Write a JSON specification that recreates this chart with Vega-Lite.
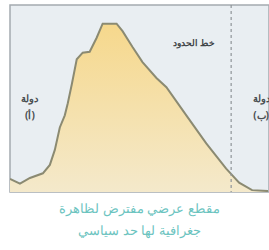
{
  "$schema": "https://vega.github.io/schema/vega-lite/v6.json",
  "width": 259,
  "height": 187,
  "autosize": "none",
  "padding": {"left": 10, "top": 5, "right": 0, "bottom": 58},
  "background": "#ffffff",
  "config": {"view": {"fill": "#e9eef2", "stroke": "#a4abb0", "strokeWidth": 1.5}},
  "title": {
    "text": ["مقطع عرضي مفترض لظاهرة", "جغرافية لها حد سياسي"],
    "orient": "bottom",
    "anchor": "middle",
    "color": "#6cc4bf",
    "font": "Noto Sans",
    "fontSize": 13,
    "fontWeight": "normal",
    "lineHeight": 22,
    "offset": 10
  },
  "datasets": {
    "profile": [
      {"d": 0, "h": 14}, {"d": 10, "h": 9}, {"d": 20, "h": 15}, {"d": 33, "h": 20},
      {"d": 40, "h": 29}, {"d": 45, "h": 45}, {"d": 50, "h": 69}, {"d": 55, "h": 82},
      {"d": 58, "h": 95}, {"d": 62, "h": 115}, {"d": 67, "h": 142}, {"d": 73, "h": 149},
      {"d": 80, "h": 150}, {"d": 87, "h": 165}, {"d": 93, "h": 180}, {"d": 107, "h": 180},
      {"d": 113, "h": 172}, {"d": 123, "h": 155}, {"d": 133, "h": 139}, {"d": 147, "h": 122},
      {"d": 157, "h": 112}, {"d": 177, "h": 82}, {"d": 197, "h": 52}, {"d": 217, "h": 25},
      {"d": 230, "h": 10}, {"d": 243, "h": 2}, {"d": 259, "h": 1}
    ],
    "labels": [
      {"d": 20, "h": 100, "t": "دولة"},
      {"d": 20, "h": 81, "t": "(أ)"},
      {"d": 252, "h": 100, "t": "دولة"},
      {"d": 252, "h": 81, "t": "(ب)"}
    ],
    "border": [{"d": 222}],
    "borderLabel": [{"d": 185, "h": 159, "t": "خط الحدود"}]
  },
  "layer": [
    {
      "data": {"name": "profile"},
      "mark": {
        "type": "area",
        "clip": true,
        "color": {
          "gradient": "linear", "x1": 0, "y1": 0, "x2": 0, "y2": 1,
          "stops": [{"offset": 0, "color": "#f6d88c"}, {"offset": 1, "color": "#f4e9cb"}]
        }
      },
      "encoding": {
        "x": {"field": "d", "type": "quantitative", "scale": {"domain": [0, 259]}, "axis": null},
        "y": {"field": "h", "type": "quantitative", "scale": {"domain": [0, 187]}, "axis": null}
      }
    },
    {
      "data": {"name": "profile"},
      "mark": {"type": "line", "clip": true, "color": "#8b8a72", "strokeWidth": 2},
      "encoding": {
        "x": {"field": "d", "type": "quantitative", "scale": {"domain": [0, 259]}, "axis": null},
        "y": {"field": "h", "type": "quantitative", "scale": {"domain": [0, 187]}, "axis": null}
      }
    },
    {
      "data": {"name": "border"},
      "mark": {"type": "rule", "color": "#8f9499", "strokeWidth": 1.2, "strokeDash": [3, 3]},
      "encoding": {
        "x": {"field": "d", "type": "quantitative"}
      }
    },
    {
      "data": {"name": "labels"},
      "mark": {"type": "text", "font": "Noto Sans", "fontSize": 10, "fontWeight": "bold", "color": "#4a4f52", "align": "center", "baseline": "middle"},
      "encoding": {
        "x": {"field": "d", "type": "quantitative"},
        "y": {"field": "h", "type": "quantitative"},
        "text": {"field": "t"}
      }
    },
    {
      "data": {"name": "borderLabel"},
      "mark": {"type": "text", "font": "Noto Sans", "fontSize": 9, "fontWeight": "bold", "color": "#3f4447", "align": "center", "baseline": "middle"},
      "encoding": {
        "x": {"field": "d", "type": "quantitative"},
        "y": {"field": "h", "type": "quantitative"},
        "text": {"field": "t"}
      }
    }
  ]
}
